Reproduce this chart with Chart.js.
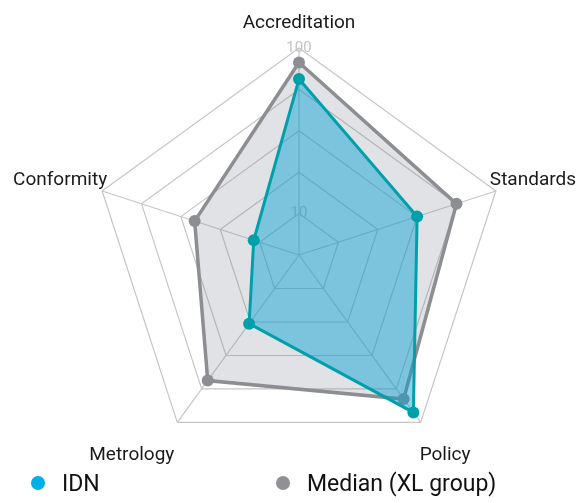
<!DOCTYPE html>
<html>
<head>
<meta charset="utf-8">
<script src="https://cdn.jsdelivr.net/npm/chart.js@4.4.1/dist/chart.umd.min.js"></script>
<style>
  body { margin: 0; background: #fff; font-family: Roboto, sans-serif; }
  #wrap { position: relative; width: 585px; height: 503px; }
  #legend .dot { position: absolute; width: 14px; height: 14px; border-radius: 50%; top: 476px; }
  #legend .txt { position: absolute; top: 470px; font-size: 23px; line-height: 28px; color: #111; white-space: nowrap; }
</style>
</head>
<body>
<div id="wrap">
  <canvas id="radar"></canvas>
  <div id="legend"></div>
</div>
<script>
// ===================== DADOS ===================== //
const categories = ['Accreditation', 'Standards', 'Policy', 'Metrology', 'Conformity'];
const idnValues = [85, 60, 94, 41, 23];
const medianValues = [93, 80, 86, 75, 53];
const tickLabels = ['', '10', '', '', '', '100']; // um por anel (0..100, passo 20)
const seriesNames = ['IDN', 'Median (XL group)'];

// ===================== ESTILO ===================== //
const TEAL = '#00a0aa';
const GREY = '#8d8e91';
const legendDots = ['#00aee8', '#8f9194'];
const legendLeft = [31, 276];

// posição dos rótulos em relação ao vértice externo: [align, dx, dy]
const labelStyle = [
  ['center', 0, -20],
  ['left', -6, -6],
  ['left', -1, 38],
  ['right', -3, 38],
  ['right', 5, -6]
];

// Desenha os rótulos das categorias perto dos vértices
const pointLabelPlugin = {
  id: 'pointLabelPlugin',
  afterDatasetsDraw(chart) {
    const scale = chart.scales.r;
    const ctx = chart.ctx;
    ctx.save();
    ctx.font = '19px Roboto';
    ctx.fillStyle = '#1a1a1a';
    ctx.textBaseline = 'alphabetic';
    categories.forEach((label, i) => {
      const p = scale.getPointPosition(i, scale.drawingArea);
      const [align, dx, dy] = labelStyle[i];
      ctx.textAlign = align;
      ctx.fillText(label, p.x + dx, p.y + dy);
    });
    ctx.restore();
  }
};

// ===================== GRÁFICO ===================== //
const ctx = document.getElementById('radar').getContext('2d');
const radar = new Chart(ctx, {
  type: 'radar',
  data: {
    labels: categories,
    datasets: [{
      label: seriesNames[0],
      data: idnValues,
      borderColor: TEAL,
      backgroundColor: 'rgba(0, 160, 210, 0.45)',
      borderWidth: 3,
      pointRadius: 6,
      pointBackgroundColor: TEAL,
      pointBorderWidth: 0,
      order: 0
    }, {
      label: seriesNames[1],
      data: medianValues,
      borderColor: GREY,
      backgroundColor: 'rgba(120, 125, 135, 0.22)',
      borderWidth: 3.5,
      pointRadius: 6,
      pointBackgroundColor: GREY,
      pointBorderWidth: 0,
      order: 1
    }]
  },
  options: {
    responsive: true,
    maintainAspectRatio: false,
    animation: false,
    // o eixo ainda tira ~9.5px de cada lado para os ticks
    layout: { padding: { left: 69, right: 56, top: 38.5, bottom: 31.5 } },
    plugins: {
      legend: { display: false },
      tooltip: { enabled: false }
    },
    elements: { line: { tension: 0 } },
    scales: {
      r: {
        min: 0,
        max: 100,
        ticks: {
          stepSize: 20,
          showLabelBackdrop: false,
          color: '#c4c4c4',
          font: { family: 'Roboto', size: 15 },
          callback: (v, i) => tickLabels[i]
        },
        grid: { color: '#c6c6c6', lineWidth: 1.2 },
        angleLines: { color: '#c6c6c6', lineWidth: 1.2 },
        pointLabels: { display: false }
      }
    }
  },
  plugins: [pointLabelPlugin]
});

// ===================== LEGENDA ===================== //
const legendEl = document.getElementById('legend');
seriesNames.forEach((name, i) => {
  const dot = document.createElement('span');
  dot.className = 'dot';
  dot.style.left = legendLeft[i] + 'px';
  dot.style.background = legendDots[i];
  const txt = document.createElement('span');
  txt.className = 'txt';
  txt.style.left = (legendLeft[i] + 31) + 'px';
  txt.textContent = name;
  legendEl.appendChild(dot);
  legendEl.appendChild(txt);
});
</script>
</body>
</html>
